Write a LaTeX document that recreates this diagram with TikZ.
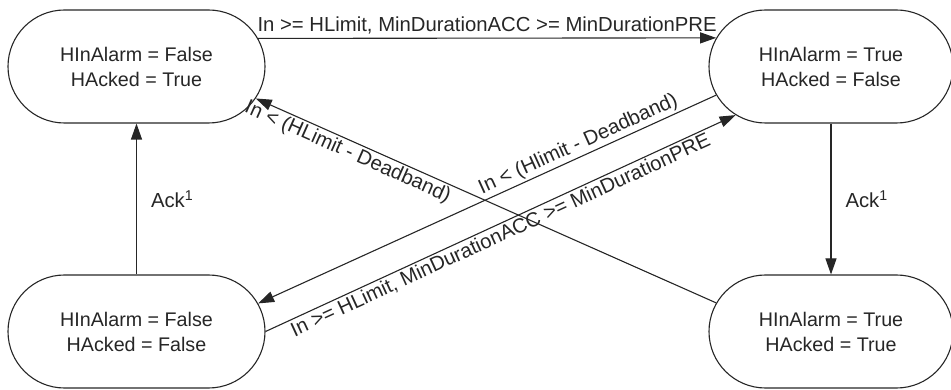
\documentclass[tikz,border=0pt]{standalone}
\usepackage{fontspec}
\setmainfont{Liberation Sans}
\usetikzlibrary{shapes.misc,arrows.meta}
\begin{document}
\begin{tikzpicture}[x=1pt,y=-1pt,
  state/.style={rounded rectangle, draw=black!85, line width=1.1pt, minimum height=113pt,
    inner sep=0pt, align=center, font=\fontsize{19.7}{25}\selectfont, text=black!85},
  conn/.style={draw=black!85, line width=1.1pt, -{Triangle[length=16pt,width=11pt]}},
  lbl/.style={font=\fontsize{20.3}{24}\selectfont, text=black!85, inner sep=2pt}]
\useasboundingbox (0,0) rectangle (951,390);
\node[state, minimum width=257pt] (tl) at (136.5,66.5) {HInAlarm = False\\HAcked = True};
\node[state, minimum width=244pt] (tr) at (831,66.5) {HInAlarm = True\\HAcked = False};
\node[state, minimum width=257pt] (bl) at (136.5,331.5) {HInAlarm = False\\HAcked = False};
\node[state, minimum width=244pt] (br) at (831,331.5) {HInAlarm = True\\HAcked = True};

\draw[conn] (tl.13.3) -- node[lbl, above=1pt] {In >= HLimit, MinDurationACC >= MinDurationPRE} (tr.166);
\draw[conn] (bl.north) -- node[lbl, right=12pt] {Ack\textsuperscript{1}} (tl.south);
\draw[conn] (tr.south) -- node[lbl, right=12pt] {Ack\textsuperscript{1}} (br.north);
\draw[conn] (tr.194.5) -- node[lbl, sloped, above, pos=0.29] {In < (Hlimit - Deadband)} (bl.13.6);
\draw[conn] (bl.0) -- node[lbl, sloped, below, pos=0.49] {In >= HLimit, MinDurationACC >= MinDurationPRE} (tr.207.3);
\draw[conn] (br.166.4) -- node[lbl, sloped, below, pos=0.79] {In < (HLimit - Deadband)} (tl.345.9);
\end{tikzpicture}
\end{document}
